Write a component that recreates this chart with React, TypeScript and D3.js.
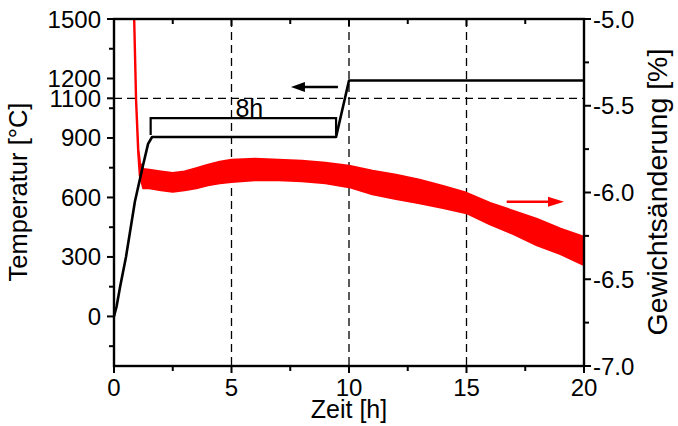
import React from "react";
import * as d3 from "d3";

const W = 678;
const H = 426;

// Temperature programme (left axis)
const tempTime = [0, 0.11, 0.26, 0.51, 0.89, 1.25, 1.45, 1.62, 9.45, 10.0, 20];
const tempValue = [0, 50, 150, 300, 580, 770, 870, 905, 905, 1190, 1190];

// Weight change band (right axis), upper / lower envelope of the noisy signal
const redTime = [0.85, 0.94, 1.03, 1.1, 1.25, 1.5, 2.0, 2.5, 3.0, 3.5, 4.0, 4.5, 5, 6, 7, 8, 9, 10, 11, 12, 13, 14, 15, 16, 17, 18, 19, 20];
const redUpper = [-4.95, -5.47, -5.75, -5.83, -5.865, -5.87, -5.88, -5.889, -5.88, -5.861, -5.841, -5.824, -5.813, -5.807, -5.813, -5.818, -5.83, -5.847, -5.876, -5.899, -5.928, -5.963, -6.003, -6.061, -6.107, -6.153, -6.21, -6.256];
const redLower = [-4.95, -5.47, -5.76, -5.9, -5.975, -5.974, -5.986, -5.995, -5.986, -5.974, -5.957, -5.945, -5.939, -5.928, -5.928, -5.934, -5.945, -5.968, -6.009, -6.037, -6.061, -6.089, -6.118, -6.182, -6.239, -6.303, -6.354, -6.418];

// Ticks
const xTicks = [0, 5, 10, 15, 20];
const xMinor = [2.5, 7.5, 12.5, 17.5];
const leftTicks = [0, 300, 600, 900, 1100, 1200, 1500];
const leftMinor = [-150, 150, 450, 750, 1050, 1350];
const rightTicks = [-5.0, -5.5, -6.0, -6.5, -7.0];
const rightMinor = [-5.25, -5.75, -6.25, -6.75];
const xGrid = [5, 10, 15];
const yGrid = [1100];

// Annotations
const bracket = { t0: 1.56, t1: 9.45, top: 1000, leg: 915, label: "8h" };
const blackArrow = { from: 9.53, to: 7.53, temp: 1157 };
const redArrow = { from: 16.71, to: 19.15, value: -6.053 };

const FONT = "'Liberation Sans', Arial, sans-serif";

export default function App() {
  const x = d3.scaleLinear().domain([0, 20]).range([114, 584]);
  const yL = d3.scaleLinear().domain([-250, 1500]).range([366, 19]);
  const yR = d3.scaleLinear().domain([-7, -5]).range([366, 19]);
  const [x0, x1] = x.range();
  const [yb, yt] = yL.range();

  const tempLine = d3
    .line<number>()
    .x((_, i) => x(tempTime[i]))
    .y((d) => yL(d))(tempValue) as string;

  const redArea = d3
    .area<number>()
    .x((_, i) => x(redTime[i]))
    .y0((_, i) => yR(redLower[i]))
    .y1((d) => yR(d))(redUpper) as string;

  const fs = 24;

  return (
    <svg
      width={W}
      height={H}
      style={{ position: "fixed", left: 0, top: 0, background: "#fff" }}
      fontFamily={FONT}
    >
      <defs>
        <clipPath id="plot">
          <rect x={x0} y={yt} width={x1 - x0} height={yb - yt} />
        </clipPath>
      </defs>

      {/* grid */}
      {xGrid.map((t) => (
        <line key={"gx" + t} x1={x(t)} x2={x(t)} y1={yt} y2={yb} stroke="#000" strokeWidth={1.3} strokeDasharray="8,5" />
      ))}
      {yGrid.map((v) => (
        <line key={"gy" + v} x1={x0} x2={x1} y1={yL(v)} y2={yL(v)} stroke="#000" strokeWidth={1.3} strokeDasharray="8,5" />
      ))}

      <g clipPath="url(#plot)">
        <path d={redArea} fill="#ff0000" stroke="#ff0000" strokeWidth={2.4} strokeLinejoin="round" />
        <path d={tempLine} fill="none" stroke="#000" strokeWidth={2.6} strokeLinejoin="round" />
      </g>

      {/* bracket */}
      <path
        d={`M${x(bracket.t0)},${yL(bracket.leg)}V${yL(bracket.top)}H${x(bracket.t1)}V${yL(bracket.leg)}`}
        fill="none"
        stroke="#000"
        strokeWidth={2.2}
      />
      <text x={(x(bracket.t0) + x(bracket.t1)) / 2 + 6} y={yL(bracket.top) - 1.5} fontSize={25} textAnchor="middle">
        {bracket.label}
      </text>

      {/* arrows */}
      <line x1={x(blackArrow.from)} x2={x(blackArrow.to) + 12} y1={yL(blackArrow.temp)} y2={yL(blackArrow.temp)} stroke="#000" strokeWidth={2.4} />
      <path d={`M${x(blackArrow.to)},${yL(blackArrow.temp)}l14,-5v10z`} fill="#000" />
      <line x1={x(redArrow.from)} x2={x(redArrow.to) - 14} y1={yR(redArrow.value)} y2={yR(redArrow.value)} stroke="#ff0000" strokeWidth={2.4} />
      <path d={`M${x(redArrow.to)},${yR(redArrow.value)}l-16,-5v10z`} fill="#ff0000" />

      {/* frame */}
      <rect x={x0} y={yt} width={x1 - x0} height={yb - yt} fill="none" stroke="#000" strokeWidth={2.4} />

      {/* bottom / top ticks */}
      {xTicks.map((t) => (
        <g key={"xt" + t}>
          <line x1={x(t)} x2={x(t)} y1={yb} y2={yb + 7} stroke="#000" strokeWidth={2} />
          <line x1={x(t)} x2={x(t)} y1={yt} y2={yt + 7} stroke="#000" strokeWidth={2} />
          <text x={x(t)} y={396} fontSize={fs} textAnchor="middle">
            {t}
          </text>
        </g>
      ))}
      {xMinor.map((t) => (
        <g key={"xm" + t}>
          <line x1={x(t)} x2={x(t)} y1={yb} y2={yb + 5} stroke="#000" strokeWidth={2} />
          <line x1={x(t)} x2={x(t)} y1={yt} y2={yt + 5} stroke="#000" strokeWidth={2} />
        </g>
      ))}

      {/* left axis */}
      {leftTicks.map((v) => (
        <g key={"lt" + v}>
          <line x1={x0 - 7} x2={x0} y1={yL(v)} y2={yL(v)} stroke="#000" strokeWidth={2} />
          <text x={x0 - 13} y={yL(v) + 8.5} fontSize={fs} textAnchor="end">
            {v}
          </text>
        </g>
      ))}
      {leftMinor.map((v) => (
        <line key={"lm" + v} x1={x0 - 5} x2={x0} y1={yL(v)} y2={yL(v)} stroke="#000" strokeWidth={2} />
      ))}

      {/* right axis */}
      {rightTicks.map((v) => (
        <g key={"rt" + v}>
          <line x1={x1} x2={x1 + 7} y1={yR(v)} y2={yR(v)} stroke="#000" strokeWidth={2} />
          <text x={x1 + 9} y={yR(v) + 8.5} fontSize={fs} textAnchor="start">
            {v.toFixed(1)}
          </text>
        </g>
      ))}
      {rightMinor.map((v) => (
        <line key={"rm" + v} x1={x1} x2={x1 + 5} y1={yR(v)} y2={yR(v)} stroke="#000" strokeWidth={2} />
      ))}

      {/* axis titles */}
      <text x={349} y={418} fontSize={25} textAnchor="middle">
        Zeit [h]
      </text>
      <text transform="translate(27,192) rotate(-90)" fontSize={25.5} textAnchor="middle">
        Temperatur [°C]
      </text>
      <text transform="translate(667,192) rotate(-90)" fontSize={28.5} textAnchor="middle">
        Gewichtsänderung [%]
      </text>
    </svg>
  );
}
